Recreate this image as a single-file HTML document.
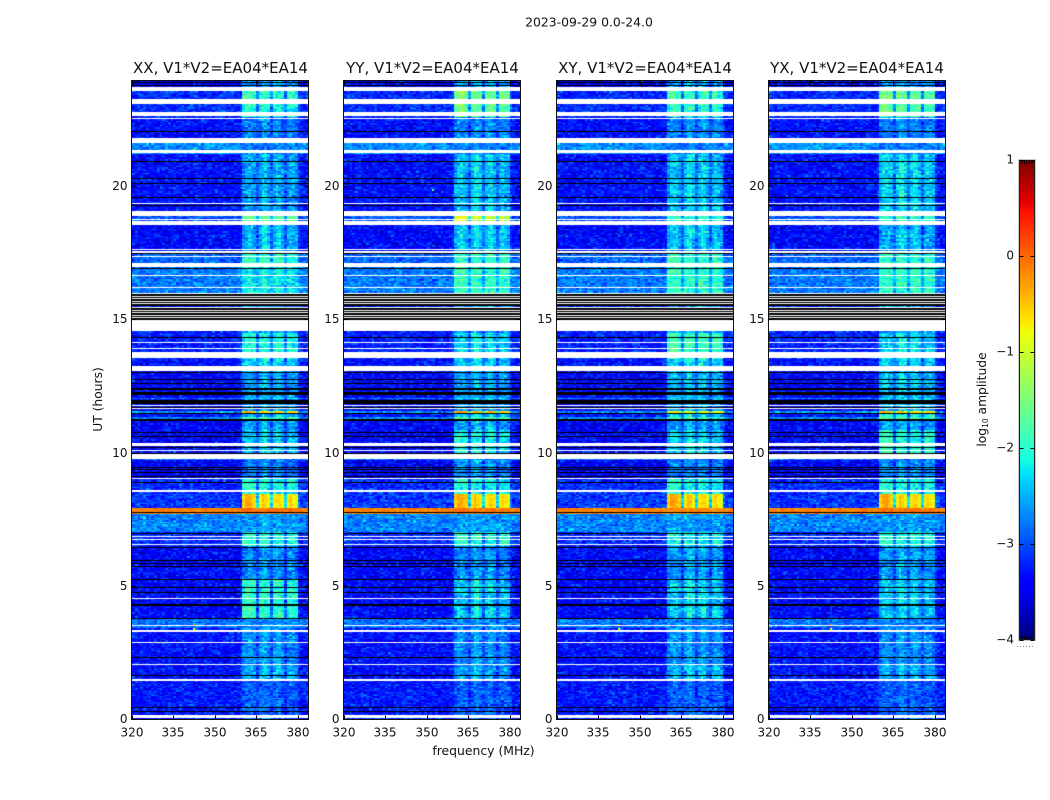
<!DOCTYPE html>
<html>
<head>
<meta charset="utf-8">
<title>2023-09-29 0.0-24.0</title>
<style>
html,body{margin:0;padding:0;background:#fff;}
#figure{position:relative;width:1050px;height:800px;overflow:hidden;background:#fff;font-family:"DejaVu Sans","Liberation Sans",sans-serif;}
canvas{position:absolute;display:block;}
svg{position:absolute;left:0;top:0;}
text{font-family:"DejaVu Sans","Liberation Sans",sans-serif;fill:#111;}
</style>
</head>
<body>
<div id="figure">
<canvas id="hm0" style="left:132px;top:81px" width="176" height="638"></canvas>
<canvas id="hm1" style="left:344px;top:81px" width="176" height="638"></canvas>
<canvas id="hm2" style="left:557px;top:81px" width="176" height="638"></canvas>
<canvas id="hm3" style="left:769px;top:81px" width="176" height="638"></canvas>
<canvas id="cbar" style="left:1020px;top:160px" width="14" height="480"></canvas>
<svg id="overlay" width="1050" height="800">
<text x="589" y="26.5" font-size="12.4" text-anchor="middle">2023-09-29 0.0-24.0</text>
<text x="220.5" y="73" font-size="15" text-anchor="middle">XX, V1*V2=EA04*EA14</text>
<text x="432.5" y="73" font-size="15" text-anchor="middle">YY, V1*V2=EA04*EA14</text>
<text x="645" y="73" font-size="15" text-anchor="middle">XY, V1*V2=EA04*EA14</text>
<text x="857" y="73" font-size="15" text-anchor="middle">YX, V1*V2=EA04*EA14</text>
<text x="483.5" y="755" font-size="12.4" text-anchor="middle">frequency (MHz)</text>
<text transform="translate(102,399.5) rotate(-90)" font-size="12.3" text-anchor="middle">UT (hours)</text>
<text transform="translate(986,399.5) rotate(-90)" font-size="12.3" text-anchor="middle">log<tspan font-size="7.5" dy="2">10</tspan><tspan dy="-2"> amplitude</tspan></text>
<line x1="1017" y1="646.5" x2="1035" y2="646.5" stroke="#888" stroke-width="1" stroke-dasharray="1 2"></line>
</svg>
</div>
<script>
// Axis values
const xTicks = [320, 335, 350, 365, 380];
const yTicks = [0, 5, 10, 15, 20];
const cbarTicks = [-4, -3, -2, -1, 0, 1];
const panelNames = ['xx', 'yy', 'xy', 'yx'];

// Channel response, one value per 1 MHz channel from 320 MHz: blocky in bright segments, soft in quiet ones
const blockProfile = [
0,0,0,0,0,0,0,0,0,0,0,0,0,0,0,0,0,0,0,0,
0,0,0,0,0,0,0,0,0,0,0,0,0,0,0,0,0,0,0,0,
.9,1,1,.95,.9,.3,.85,.95,.9,.85,.3,.85,.9,.9,.85,.3,.85,.9,.85,.8,
.1,0,0,0
];
const softProfile = [
0,0,0,0,0,0,0,0,0,0,0,0,0,0,0,0,0,0,0,0,
0,0,0,0,0,0,0,0,0,0,0,0,0,0,0,0,0,0,.03,.08,
.65,.8,.85,.8,.7,.45,.75,1,1,.8,.45,.8,.95,.9,.7,.4,.7,.8,.75,.65,
.2,.05,0,0
];

// Time segments (UT hours), with background level and in-band level for each polarisation
const segStart = [0,1.5,2.05,3.4,3.75,5.2,6.5,7.0,7.7,7.9,8.45,9.0,9.7,10.0,10.85,11.25,11.36,11.5,11.56,12.0,12.05,13.0,13.5,14.5,15.95,17.0,17.5,18.6,19.0,21.2,21.8,22.6,23.05,23.6];
const bgLevel = [-3.3,-3.35,-3.35,-2.85,-3.4,-3.4,-3.2,-2.75,-0.15,-3.15,-3.2,-3.45,-2.85,-3.4,-3.45,-2.75,-3.3,-2.7,-3.4,-2.8,-3.4,-3.35,-3.25,-3.25,-2.8,-2.9,-3.4,-3.0,-3.35,-2.7,-3.35,-3.2,-3.2,-3.45];
const bandXX = [-2.85,-2.35,-2.5,-2.7,-1.9,-2.55,-1.95,-2.6,-0.05,-0.35,-2.0,-2.6,-2.8,-2.2,-2.45,-1.8,-2.3,-0.3,-2.4,-2.3,-2.4,-2.2,-2.0,-2.4,-2.1,-1.9,-2.3,-1.6,-2.4,-2.8,-2.6,-2.0,-1.9,-2.4];
const bandYY = [-2.85,-2.45,-2.55,-2.7,-2.15,-2.55,-1.95,-2.6,-0.05,-0.3,-2.0,-2.5,-2.8,-2.0,-2.4,-1.7,-2.2,-0.2,-2.4,-2.3,-2.4,-2.2,-2.1,-2.4,-1.9,-1.9,-2.2,-0.8,-2.2,-2.8,-2.6,-1.5,-1.4,-2.4];
const bandXY = [-2.85,-2.3,-2.5,-2.7,-2.1,-2.45,-2.05,-2.6,-0.2,-0.3,-2.0,-2.6,-2.8,-2.1,-2.4,-1.8,-2.2,-0.7,-2.3,-2.3,-2.3,-2.1,-1.8,-2.4,-1.9,-1.9,-2.2,-1.9,-2.2,-2.8,-2.6,-1.9,-1.8,-2.4];
const bandYX = [-2.85,-2.4,-2.55,-2.7,-2.15,-2.45,-1.95,-2.6,-0.05,-0.3,-2.0,-2.5,-2.8,-1.9,-2.4,-1.7,-2.0,-0.3,-2.2,-2.2,-2.2,-2.2,-2.1,-2.4,-1.9,-1.9,-2.3,-1.9,-2.1,-2.8,-2.6,-1.6,-1.5,-2.4];
const bandLevels = [bandXX, bandYY, bandXY, bandYX];

// Hand-written grain texture added to each cell, log10 amplitude offsets
const grainA = [.12,-.22,.31,-.05,-.28,.18,.42,-.14,.03,-.31,.24,-.09,.15,-.25,.52,-.02,-.18,.27,-.35,.09,
-.11,.36,-.27,.06,.2,-.16,-.04,.33,-.24,.11,-.33,.47,-.08,.16,-.2,.01,.29,-.13,-.3,.22,
.07,-.26,.38,-.12,-.01,.25,-.19,.13,-.34,.3,-.07,.19,-.23,.44,-.15,.04,-.29,.21,.1,-.17,.34];
const grainB = [-.15,.2,-.06,.28,-.24,.09,-.33,.14,.37,-.1,-.27,.05,.23,-.19,.02,.31,-.3,.17,-.08,.4,
-.21,.11,.26,-.36,.07,-.13,.34,-.03,-.25,.19,.08,-.29,.42,-.16,-.05,.22,-.32,.13,.29,-.12,
-.2,.04,.35,-.26,.16,-.09,.25,-.34,.1,-.01,.3,-.18,.06,.21,-.28,.15,-.11,.38,-.23];

// Rows flagged as missing (white) and blanked (black), in UT hours
const whiteBands = [[23.57,23.71],[23.07,23.26],[22.63,22.78],[22.51,22.55],[21.61,21.81],[21.24,21.35],[19.32,19.36],[18.87,19.06],[18.72,18.78],[18.53,18.68],[17.59,17.64],[17.50,17.55],[17.34,17.37],[16.96,17.12],[16.62,16.66],[16.17,16.21],[15.53,15.98],[14.56,15.47],[14.11,14.15],[13.88,13.92],[13.55,13.77],[13.06,13.25],[11.73,11.78],[11.62,11.66],[10.23,10.36],[10.08,10.11],[9.77,9.96],[9.01,9.04],[8.57,8.60],[8.52,8.56],[6.83,6.87],[6.74,6.77],[6.53,6.57],[4.50,4.54],[3.49,3.53],[3.26,3.34],[2.85,2.89],[2.03,2.08],[1.43,1.50],[0.03,0.15]];
const blackLines = [23.89,23.79,22.06,20.94,20.30,20.13,19.57,19.29,17.47,16.94,14.35,13.03,12.77,12.59,10.77,10.62,10.21,10.0,9.47,9.38,9.28,9.13,8.89,7.77,6.99,6.45,5.95,5.84,5.75,4.94,4.77,2.32,1.64,0.44,0.30,0.01];
const stripeLines = [15.95,15.85,15.75,15.65,15.56,15.41,15.31,15.22,15.13,15.04];
const blackBands = [[12.35,12.42],[12.15,12.28],[11.82,11.96],[11.68,11.72],[11.44,11.49],[11.2,11.25],[5.2,5.26],[4.25,4.31],[3.74,3.8]];

// Isolated bright cells: panel index, hour, MHz, level
const hotPanel = [0,0,2,3,2,3,1,0,2];
const hotHour = [3.55,3.4,3.55,3.55,3.4,3.4,19.9,21.4,21.4];
const hotMHz = [342,342,342,342,342,342,352,342,341];
const hotLevel = [0.05,-0.8,0.05,0.05,-0.8,-0.8,-1.8,-1.0,-1.3];

const panelLeft = [132, 344, 557, 769];
const panelWidth = 176;
const plotTop = 81;
const plotBottom = 719;
const rowHours = 0.05;
const rowCount = 480;
const channelCount = 64;
const svgNS = 'http://www.w3.org/2000/svg';
const overlay = document.getElementById('overlay');

function xOf(p, mhz) { return panelLeft[p] + (mhz - 320) * 2.76; }
function yOf(h) { return 719 - h * 26.65; }
function cbarY(v) { return 640 - (v + 4) * 96; }

function jet(v) {
  v = Math.max(0, Math.min(1, v));
  function seg(xs, ys) {
    for (let i = 1; i < xs.length; i++) {
      if (v <= xs[i]) return ys[i-1] + (ys[i] - ys[i-1]) * (v - xs[i-1]) / (xs[i] - xs[i-1]);
    }
    return ys[ys.length - 1];
  }
  const r = seg([0,.35,.66,.89,1],[0,0,1,1,.5]);
  const g = seg([0,.125,.375,.64,.91,1],[0,0,1,1,0,0]);
  const b = seg([0,.11,.34,.65,1],[.5,1,1,0,0]);
  return 'rgb(' + Math.round(r*255) + ',' + Math.round(g*255) + ',' + Math.round(b*255) + ')';
}
function levelColor(l) { return jet((l + 4) / 5); }

function segIndex(h) {
  let idx = 0;
  for (let i = 0; i < segStart.length; i++) { if (h >= segStart[i]) idx = i; }
  return idx;
}

function grainIndex(r, c, p, len, salt) {
  let m = Math.imul(r + 1, 73856093) ^ Math.imul(c + 1, 19349663) ^ Math.imul(p + salt, 83492791);
  m = Math.imul(m ^ (m >>> 13), 1274126177);
  return ((m ^ (m >>> 16)) >>> 0) % len;
}

function drawPanel(p) {
  const ctx = document.getElementById('hm' + p).getContext('2d');
  ctx.translate(-panelLeft[p], -plotTop);
  for (let r = 0; r < rowCount; r++) {
    const h = r * rowHours;
    const s = segIndex(h + rowHours / 2);
    const yTop = Math.round(yOf(h + rowHours));
    const yBot = Math.round(yOf(h));
    const band = bandLevels[p][s];
    const profile = band >= -2.05 ? blockProfile : softProfile;
    for (let c = 0; c < channelCount; c++) {
      const base = bgLevel[s] + (band - bgLevel[s]) * profile[c];
      const a = grainIndex(r, c, p, grainA.length, 3);
      const b = grainIndex(c, r, p, grainB.length, 11);
      const amp = base > -1 ? 0.25 : 0.65;
      const x0 = Math.round(xOf(p, 320 + c));
      const x1 = Math.round(xOf(p, 321 + c));
      ctx.fillStyle = levelColor(base + (grainA[a] + grainB[b]) * amp);
      ctx.fillRect(x0, yTop, x1 - x0, yBot - yTop);
    }
  }
  for (let i = 0; i < hotPanel.length; i++) {
    if (hotPanel[i] !== p) continue;
    ctx.fillStyle = levelColor(hotLevel[i]);
    ctx.fillRect(Math.round(xOf(p, hotMHz[i])), Math.round(yOf(hotHour[i])), 2, 2);
  }
  ctx.fillStyle = '#fff';
  whiteBands.forEach(function (b) {
    const y0 = Math.round(yOf(b[1]));
    const y1 = Math.round(yOf(b[0]));
    ctx.fillRect(panelLeft[p], y0, panelWidth, Math.max(1, y1 - y0));
  });
  ctx.fillStyle = '#000';
  blackLines.forEach(function (h) {
    ctx.fillRect(panelLeft[p], Math.round(yOf(h)), panelWidth, 1);
  });
  stripeLines.forEach(function (h, i) {
    const y0 = Math.round(yOf(h));
    const next = i + 1 < stripeLines.length ? Math.round(yOf(stripeLines[i + 1])) : y0 + 3;
    ctx.fillRect(panelLeft[p], y0, panelWidth, Math.max(1, Math.min(2, next - y0 - 1)));
  });
  blackBands.forEach(function (b) {
    const y0 = Math.round(yOf(b[1]));
    const y1 = Math.round(yOf(b[0]));
    ctx.fillRect(panelLeft[p], y0, panelWidth, Math.max(1, y1 - y0));
  });
}

function drawColorbar() {
  const ctx = document.getElementById('cbar').getContext('2d');
  for (let i = 0; i < 480; i++) {
    ctx.fillStyle = jet(1 - i / 479);
    ctx.fillRect(0, i, 14, 1);
  }
}

function addLine(parent, x1, y1, x2, y2, name) {
  const el = document.createElementNS(svgNS, 'line');
  el.setAttribute('x1', x1);
  el.setAttribute('y1', y1);
  el.setAttribute('x2', x2);
  el.setAttribute('y2', y2);
  el.setAttribute('stroke', '#000');
  el.setAttribute('stroke-width', '1');
  
  
  parent.appendChild(el);
}

function addText(parent, x, y, str, anchor, name) {
  const el = document.createElementNS(svgNS, 'text');
  el.setAttribute('x', x);
  el.setAttribute('y', y);
  el.setAttribute('font-size', '12');
  el.setAttribute('text-anchor', anchor);
  
  
  el.textContent = str;
  parent.appendChild(el);
}

function drawAxes(p) {
  const left = panelLeft[p] - 0.5;
  const right = panelLeft[p] + panelWidth + 0.5;
  const frame = document.createElementNS(svgNS, 'rect');
  frame.setAttribute('x', left);
  frame.setAttribute('y', plotTop - 0.5);
  frame.setAttribute('width', panelWidth + 1);
  frame.setAttribute('height', plotBottom - plotTop + 1);
  frame.setAttribute('fill', 'none');
  frame.setAttribute('stroke', '#111');
  
  
  overlay.appendChild(frame);
  xTicks.forEach(function (t) {
    const x = Math.round(xOf(p, t)) + 0.5;
    addLine(overlay, x, plotBottom + 0.5, x, plotBottom - 3.5, 'x-tick-bottom-' + t);
    addLine(overlay, x, plotTop - 0.5, x, plotTop + 3.5, 'x-tick-top-' + t);
    addText(overlay, x - 0.5, 736.5, String(t), 'middle', 'x-tick-label-' + t);
  });
  yTicks.forEach(function (t) {
    const y = Math.round(yOf(t)) + 0.5;
    addLine(overlay, left, y, left + 4, y, 'y-tick-left-' + t);
    addLine(overlay, right, y, right - 4, y, 'y-tick-right-' + t);
    addText(overlay, left - 4, y + 3.7, String(t), 'end', 'y-tick-label-' + t);
  });
}

function drawColorbarAxis() {
  const outer = document.createElementNS(svgNS, 'rect');
  outer.setAttribute('x', 1018.5);
  outer.setAttribute('y', 159.5);
  outer.setAttribute('width', 17);
  outer.setAttribute('height', 481);
  outer.setAttribute('fill', 'none');
  outer.setAttribute('stroke', '#c8c8c8');
  
  
  overlay.appendChild(outer);
  const frame = document.createElementNS(svgNS, 'rect');
  frame.setAttribute('x', 1019.5);
  frame.setAttribute('y', 160.5);
  frame.setAttribute('width', 15);
  frame.setAttribute('height', 479);
  frame.setAttribute('fill', 'none');
  frame.setAttribute('stroke', '#222');
  
  
  overlay.appendChild(frame);
  cbarTicks.forEach(function (t) {
    const y = Math.round(cbarY(t)) + 0.5;
    addLine(overlay, 1019.5, y, 1023.5, y, 'colorbar-tick-left');
    addLine(overlay, 1034.5, y, 1030.5, y, 'colorbar-tick-right');
    const label = t < 0 ? '\u2212' + Math.abs(t) : String(t);
    addText(overlay, 1014, y + 3, label, 'end', 'colorbar-tick-label');
  });
  for (let i = 1; i < 6; i++) {
    const x = 1019.5 + i * 15 / 6;
    addLine(overlay, x, 160, x, 164, 'colorbar-top-tick');
    addLine(overlay, x, 640, x, 636, 'colorbar-bottom-tick');
  }
}

for (let p = 0; p < 4; p++) {
  drawPanel(p);
  drawAxes(p);
}
drawColorbar();
drawColorbarAxis();
</script>
</body>
</html>
